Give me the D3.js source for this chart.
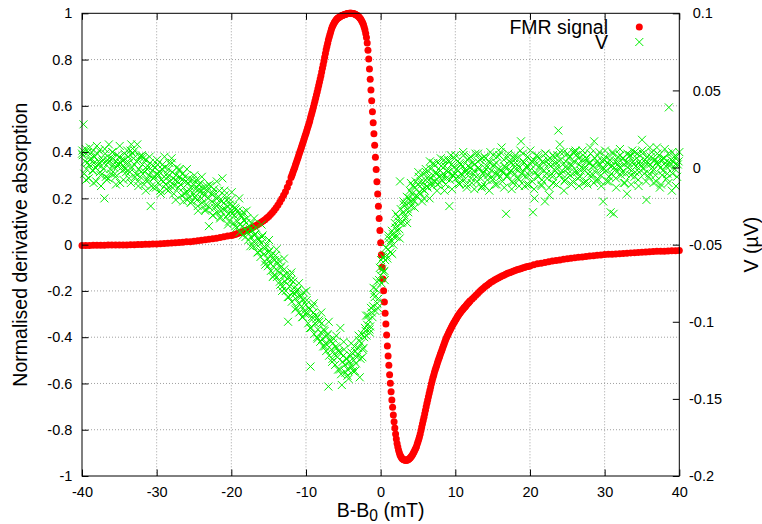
<!DOCTYPE html>
<html><head><meta charset="utf-8">
<script src="https://cdn.jsdelivr.net/npm/d3@7"></script>
<style>
body{margin:0;background:#fff;}
svg{display:block;font-family:"Liberation Sans",Arial,Helvetica,sans-serif;}
</style></head><body>
<svg id="chart" width="762" height="524"></svg>
<script>
// ---------- tick values / labels ----------
const xTicks = [-40,-30,-20,-10,0,10,20,30,40];
const yTicks = [-1,-0.8,-0.6,-0.4,-0.2,0,0.2,0.4,0.6,0.8,1];
const y2Ticks = [-0.2,-0.15,-0.1,-0.05,0,0.05,0.1];
const xLabel = "B-B";
const xLabelSub = "0";
const xLabelUnit = " (mT)";
const yLabel = "Normalised derivative absorption";
const y2Label = "V (\u00b5V)";
const seriesNames = ["FMR signal", "V"];

// ---------- FMR signal: [B-B0 (mT), normalised derivative absorption] ----------
const fmrPoints = [
[-40,-0.004],[-39.5,-0.004],[-39,-0.004],[-38.5,-0.003],[-38,-0.003],[-37.5,-0.003],[-37,-0.003],[-36.5,-0.002],[-36,-0.002],[-35.5,-0.002],
[-35,-0.002],[-34.5,-0.001],[-34,-0.001],[-33.5,0],[-33,0],[-32.5,0.001],[-32,0.001],[-31.5,0.002],[-31,0.002],[-30.5,0.003],
[-30,0.003],[-29.5,0.004],[-29,0.005],[-28.5,0.006],[-28,0.007],[-27.5,0.008],[-27,0.009],[-26.5,0.010],[-26,0.012],[-25.5,0.013],
[-25,0.015],[-24.5,0.017],[-24,0.019],[-23.5,0.021],[-23,0.023],[-22.5,0.025],[-22,0.028],[-21.5,0.031],[-21,0.034],[-20.5,0.037],
[-20,0.040],[-19.75,0.042],[-19.5,0.044],[-19.25,0.047],[-19,0.050],[-18.75,0.053],[-18.5,0.056],[-18.25,0.059],[-18,0.062],[-17.75,0.066],
[-17.5,0.069],[-17.25,0.073],[-17,0.077],[-16.75,0.082],[-16.5,0.086],[-16.25,0.091],[-16,0.097],[-15.75,0.102],[-15.5,0.108],[-15.25,0.115],
[-15,0.122],[-14.75,0.130],[-14.5,0.139],[-14.25,0.149],[-14,0.160],[-13.75,0.171],[-13.5,0.184],[-13.25,0.198],[-13,0.213],[-12.75,0.229],
[-12.5,0.248],[-12.25,0.268],
[-12,0.290],[-11.9,0.299],[-11.8,0.308],[-11.7,0.317],[-11.6,0.326],[-11.5,0.335],[-11.4,0.345],[-11.3,0.354],[-11.2,0.364],[-11.1,0.373],
[-11,0.383],[-10.9,0.393],[-10.8,0.403],[-10.7,0.412],[-10.6,0.422],[-10.5,0.432],[-10.4,0.442],[-10.3,0.452],[-10.2,0.462],[-10.1,0.472],
[-10,0.482],[-9.9,0.492],[-9.8,0.503],[-9.7,0.513],[-9.6,0.524],[-9.5,0.535],[-9.4,0.547],[-9.3,0.559],[-9.2,0.571],[-9.1,0.583],
[-9,0.595],[-8.9,0.608],[-8.8,0.621],[-8.7,0.634],[-8.6,0.647],[-8.5,0.660],[-8.4,0.674],[-8.3,0.688],[-8.2,0.702],[-8.1,0.716],
[-8,0.730],[-7.9,0.746],[-7.8,0.762],[-7.7,0.778],[-7.6,0.794],[-7.5,0.810],[-7.4,0.826],[-7.3,0.842],[-7.2,0.857],[-7.1,0.871],
[-7,0.885],[-6.9,0.897],[-6.8,0.908],[-6.7,0.919],[-6.6,0.930],[-6.5,0.940],[-6.4,0.947],[-6.3,0.954],[-6.2,0.960],[-6.1,0.965],
[-6,0.970],[-5.9,0.974],[-5.8,0.977],[-5.7,0.980],[-5.6,0.982],[-5.5,0.984],[-5.4,0.986],[-5.3,0.988],[-5.2,0.990],[-5.1,0.991],
[-5,0.993],[-4.9,0.994],[-4.8,0.995],[-4.7,0.996],[-4.6,0.997],[-4.5,0.998],[-4.4,0.999],[-4.3,0.999],[-4.2,1.000],[-4.1,1.000],
[-4,1.000],[-3.9,1.000],[-3.8,0.999],[-3.7,0.999],[-3.6,0.998],[-3.5,0.997],[-3.4,0.996],[-3.3,0.994],[-3.2,0.992],[-3.1,0.990],
[-3,0.987],[-2.9,0.984],[-2.8,0.980],[-2.7,0.976],[-2.6,0.971],[-2.5,0.965],[-2.4,0.958],[-2.3,0.950],[-2.2,0.940],[-2.1,0.928],
[-2,0.913],[-1.9,0.895],[-1.8,0.872],[-1.7,0.840],[-1.6,0.802],[-1.5,0.759],[-1.4,0.715],[-1.3,0.669],[-1.2,0.622],[-1.1,0.574],
[-1,0.527],[-0.9,0.479],[-0.8,0.430],[-0.7,0.378],[-0.6,0.325],[-0.5,0.272],[-0.4,0.219],[-0.3,0.166],[-0.2,0.113],[-0.1,0.061],
[0,0.008],[0.1,-0.044],[0.2,-0.098],[0.3,-0.149],[0.4,-0.199],[0.5,-0.248],[0.6,-0.297],[0.7,-0.343],[0.8,-0.391],[0.9,-0.438],
[1,-0.481],[1.1,-0.521],[1.2,-0.562],[1.3,-0.599],[1.4,-0.636],[1.5,-0.671],[1.6,-0.703],[1.7,-0.736],[1.8,-0.766],[1.9,-0.793],
[2,-0.818],[2.1,-0.840],[2.2,-0.859],[2.3,-0.875],[2.4,-0.889],[2.5,-0.900],[2.6,-0.909],[2.7,-0.916],[2.8,-0.921],[2.9,-0.925],
[3,-0.928],[3.1,-0.930],[3.2,-0.931],[3.3,-0.932],[3.4,-0.932],[3.5,-0.932],[3.6,-0.931],[3.7,-0.929],[3.8,-0.926],[3.9,-0.923],
[4,-0.920],[4.1,-0.916],[4.2,-0.911],[4.3,-0.906],[4.4,-0.900],[4.5,-0.894],[4.6,-0.887],[4.7,-0.880],[4.8,-0.872],[4.9,-0.862],
[5,-0.852],[5.1,-0.841],[5.2,-0.830],[5.3,-0.818],[5.4,-0.803],[5.5,-0.788],[5.6,-0.774],[5.7,-0.760],[5.8,-0.746],[5.9,-0.731],
[6,-0.716],[6.1,-0.701],[6.2,-0.686],[6.3,-0.671],[6.4,-0.657],[6.5,-0.643],[6.6,-0.629],[6.7,-0.615],[6.8,-0.601],[6.9,-0.588],
[7,-0.575],[7.1,-0.564],[7.2,-0.553],[7.3,-0.542],[7.4,-0.532],[7.5,-0.522],[7.6,-0.512],[7.7,-0.502],[7.8,-0.492],[7.9,-0.483],
[8,-0.474],[8.1,-0.465],[8.2,-0.456],[8.3,-0.447],[8.4,-0.438],[8.5,-0.429],[8.6,-0.420],[8.7,-0.411],[8.8,-0.403],[8.9,-0.396],
[9,-0.389],[9.1,-0.382],[9.2,-0.375],[9.3,-0.369],[9.4,-0.362],[9.5,-0.356],[9.6,-0.350],[9.7,-0.344],[9.8,-0.338],[9.9,-0.333],
[10,-0.327],[10.1,-0.322],[10.2,-0.316],[10.3,-0.311],[10.4,-0.306],[10.5,-0.301],[10.6,-0.296],[10.7,-0.292],[10.8,-0.288],[10.9,-0.284],
[11,-0.280],[11.1,-0.276],[11.2,-0.272],[11.3,-0.269],[11.4,-0.265],[11.5,-0.261],[11.6,-0.257],[11.7,-0.253],[11.8,-0.250],[11.9,-0.246],
[12,-0.243],
[12.25,-0.235],[12.5,-0.227],[12.75,-0.219],[13,-0.211],[13.25,-0.203],[13.5,-0.195],[13.75,-0.188],[14,-0.181],[14.25,-0.175],[14.5,-0.169],
[14.75,-0.163],[15,-0.158],[15.25,-0.153],[15.5,-0.148],[15.75,-0.144],[16,-0.140],[16.25,-0.136],[16.5,-0.132],[16.75,-0.128],[17,-0.124],
[17.25,-0.121],[17.5,-0.118],[17.75,-0.115],[18,-0.112],[18.25,-0.109],[18.5,-0.106],[18.75,-0.104],[19,-0.101],[19.25,-0.099],[19.5,-0.096],
[19.75,-0.094],[20,-0.092],
[20.5,-0.087],[21,-0.083],[21.5,-0.080],[22,-0.077],[22.5,-0.074],[23,-0.071],[23.5,-0.068],[24,-0.066],[24.5,-0.063],[25,-0.061],
[25.5,-0.059],[26,-0.057],[26.5,-0.055],[27,-0.053],[27.5,-0.051],[28,-0.049],[28.5,-0.048],[29,-0.046],[29.5,-0.045],[30,-0.043],
[30.5,-0.042],[31,-0.041],[31.5,-0.040],[32,-0.039],[32.5,-0.038],[33,-0.037],[33.5,-0.036],[34,-0.035],[34.5,-0.034],[35,-0.033],
[35.5,-0.032],[36,-0.031],[36.5,-0.030],[37,-0.029],[37.5,-0.029],[38,-0.028],[38.5,-0.027],[39,-0.026],[39.5,-0.026],[40,-0.025]
];

// ---------- V: [B-B0 (mT), V (µV)] ----------
const vPoints = [
[-40,0.009],[-39.8,0.028],[-39.6,0.004],[-39.4,-0.001],[-39.2,0.010],[-39,0.002],[-38.8,0.006],[-38.6,-0.002],[-38.4,0.003],[-38.2,0.000],
[-38,0.014],[-37.8,0.004],[-37.6,-0.003],[-37.4,0.001],[-37.2,0.005],[-37,-0.020],[-36.8,-0.006],[-36.6,0.005],[-36.4,0.015],[-36.2,-0.001],
[-36,0.006],[-35.8,0.002],[-35.6,-0.004],[-35.4,0.004],[-35.2,0.001],[-35,0.007],[-34.8,0.003],[-34.6,-0.002],[-34.4,0.005],[-34.2,-0.001],
[-34,0.002],[-33.8,0.007],[-33.6,-0.003],[-33.4,0.015],[-33.2,0.009],
[-33,0.002],[-32.8,-0.004],[-32.6,0.015],[-32.4,-0.001],[-32.2,-0.006],[-32,0.008],[-31.8,0.006],[-31.6,-0.003],[-31.4,-0.008],[-31.2,0.001],
[-31,-0.005],[-30.8,-0.025],[-30.6,-0.002],[-30.4,-0.007],[-30.2,0.000],[-30,-0.004],[-29.8,-0.010],[-29.6,-0.003],[-29.4,-0.008],[-29.2,0.002],
[-29,-0.006],[-28.8,-0.011],[-28.6,-0.004],[-28.4,-0.001],[-28.2,-0.009],[-28,0.006],[-27.8,-0.007],[-27.6,-0.012],[-27.4,-0.005],[-27.2,-0.009],
[-27,-0.002],[-26.8,-0.011],[-26.6,-0.008],
[-26.4,-0.013],[-26.2,-0.006],[-26,-0.016],[-25.8,-0.010],[-25.6,-0.019],[-25.4,-0.013],[-25.2,-0.008],[-25,-0.017],[-24.8,-0.014],[-24.6,-0.021],
[-24.4,-0.011],[-24.2,-0.016],[-24,-0.020],[-23.8,-0.013],[-23.6,-0.018],[-23.4,-0.024],[-23.2,-0.015],[-23,-0.038],[-22.8,-0.012],[-22.6,-0.022],
[-22.4,-0.017],[-22.2,-0.026],[-22,-0.020],[-21.8,-0.024],[-21.6,-0.015],[-21.4,-0.028],[-21.2,-0.007],[-21,-0.023],[-20.8,-0.027],[-20.6,-0.021],
[-20.4,-0.030],[-20.2,-0.024],[-20,-0.028],
[-19.8,-0.025],[-19.6,-0.031],[-19.4,-0.027],[-19.2,-0.035],[-19,-0.030],[-18.8,-0.037],[-18.6,-0.032],[-18.4,-0.029],[-18.2,-0.040],[-18,-0.036],
[-17.8,-0.042],[-17.6,-0.038],[-17.4,-0.045],[-17.2,-0.041],[-17,-0.048],[-16.8,-0.043],[-16.6,-0.050],[-16.4,-0.046],[-16.2,-0.054],[-16,-0.049],
[-15.8,-0.044],[-15.6,-0.056],[-15.4,-0.052],[-15.2,-0.059],[-15,-0.055],[-14.8,-0.062],[-14.6,-0.057],[-14.4,-0.064],[-14.2,-0.060],[-14,-0.066],
[-13.8,-0.062],[-13.6,-0.068],[-13.4,-0.065],[-13.2,-0.080],[-13,-0.070],[-12.8,-0.074],[-12.6,-0.069],[-12.4,-0.100],[-12.2,-0.077],[-12,-0.073],
[-11.8,-0.081],[-11.6,-0.078],[-11.4,-0.085],[-11.2,-0.080],[-11,-0.088],[-10.8,-0.083],[-10.6,-0.090],[-10.4,-0.086],[-10.2,-0.093],[-10,-0.089],
[-9.8,-0.095],[-9.6,-0.091],[-9.4,-0.129],[-9.2,-0.097],[-9,-0.094],[-8.8,-0.101],[-8.6,-0.098],[-8.4,-0.105],[-8.2,-0.100],[-8,-0.107],
[-7.8,-0.111],[-7.6,-0.105],[-7.4,-0.114],[-7.2,-0.109],[-7,-0.142],[-6.8,-0.112],[-6.6,-0.118],[-6.4,-0.114],[-6.2,-0.121],[-6,-0.116],
[-5.8,-0.123],[-5.6,-0.119],[-5.4,-0.104],[-5.2,-0.141],[-5,-0.122],[-4.8,-0.128],[-4.6,-0.124],[-4.4,-0.131],[-4.2,-0.126],[-4,-0.122],
[-3.8,-0.129],[-3.6,-0.125],[-3.4,-0.119],[-3.2,-0.123],[-3,-0.117],[-2.8,-0.136],[-2.6,-0.114],[-2.4,-0.118],[-2.2,-0.110],[-2,-0.106],
[-1.8,-0.102],[-1.6,-0.099],[-1.4,-0.103],[-1.2,-0.094],[-1,-0.090],[-0.8,-0.084],[-0.6,-0.079],[-0.4,-0.091],[-0.2,-0.073],[0,-0.070],
[0.2,-0.066],[0.4,-0.068],[0.6,-0.060],[0.8,-0.057],[1,-0.053],[1.2,-0.049],[1.4,-0.047],[1.6,-0.043],[1.8,-0.045],[2,-0.039],
[2.2,-0.041],[2.4,-0.035],[2.6,-0.009],[2.8,-0.036],[3,-0.029],[3.2,-0.031],[3.4,-0.024],[3.6,-0.027],[3.8,-0.020],[4,-0.022],
[4.2,-0.017],[4.4,-0.021],[4.6,-0.013],[4.8,-0.018],[5,-0.011],[5.2,-0.016],[5.4,-0.009],[5.6,-0.014],[5.8,-0.020],[6,-0.008],
[6.2,-0.012],[6.4,-0.006],[6.6,0.004],[6.8,-0.010],[7,-0.005],[7.2,-0.009],[7.4,-0.003],[7.6,-0.011],[7.8,-0.006],[8,-0.002],
[8.2,-0.008],[8.4,-0.004],[8.6,0.001],[8.8,-0.007],[9,-0.003],[9.2,-0.025],[9.4,0.008],[9.6,-0.005],[9.8,0.000],[10,-0.004],
[10.2,-0.001],[10.4,-0.006],[10.6,0.003],[10.8,-0.004],[11,0.001],[11.2,-0.008],[11.4,-0.002],[11.6,0.005],[11.8,-0.003],[12,0.000],
[12.2,-0.010],[12.4,-0.004],[12.6,0.002],[12.8,-0.006],[13,0.004],[13.2,-0.001],[13.4,-0.007],[13.6,0.006],[13.8,-0.003],[14,-0.012],
[14.2,0.001],[14.4,-0.005],[14.6,0.003],[14.8,-0.002],[15,-0.008],[15.2,0.002],[15.4,-0.004],[15.6,0.007],[15.8,-0.001],[16,-0.006],
[16.2,0.013],[16.4,-0.003],[16.6,0.001],[16.8,-0.030],[17,-0.005],[17.2,0.004],[17.4,-0.002],[17.6,-0.009],[17.8,0.002],[18,-0.004],
[18.2,0.006],[18.4,-0.007],[18.6,0.000],[18.8,0.017],[19,-0.003],[19.2,0.003],[19.4,-0.006],[19.6,0.001],[19.8,-0.011],[20,-0.002],
[20.2,0.004],[20.4,-0.029],[20.6,-0.020],[20.8,0.002],[21,-0.005],[21.2,0.006],[21.4,-0.001],[21.6,-0.008],[21.8,0.003],[22,-0.022],
[22.2,-0.004],[22.4,0.005],[22.6,-0.018],[22.8,0.001],[23,-0.006],[23.2,0.007],[23.4,-0.002],[23.6,0.003],[23.8,0.024],[24,0.015],
[24.2,-0.004],[24.4,0.002],[24.6,-0.009],[24.8,0.004],[25,-0.001],[25.2,0.006],[25.4,-0.005],[25.6,0.001],[25.8,0.010],[26,-0.003],
[26.2,0.008],[26.4,-0.007],[26.6,0.002],[26.8,-0.002],[27,0.005],[27.2,-0.010],[27.4,0.000],[27.6,0.006],[27.8,-0.004],[28,0.003],
[28.2,-0.006],[28.4,0.001],[28.6,0.017],[28.8,-0.003],[29,0.004],[29.2,-0.008],[29.4,0.002],[29.6,-0.001],[29.8,-0.022],[30,0.005],
[30.2,-0.002],[30.4,0.003],[30.6,-0.006],[30.8,-0.029],[31,0.001],[31.2,-0.030],[31.4,0.004],[31.6,-0.003],[31.8,0.007],[32,0.000],
[32.2,-0.005],[32.4,0.006],[32.6,0.002],[32.8,-0.004],[33,-0.017],[33.2,0.003],[33.4,0.008],[33.6,-0.002],[33.8,0.004],[34,-0.006],
[34.2,0.001],[34.4,0.009],[34.6,-0.003],[34.8,0.002],[35,0.018],[35.2,-0.001],[35.4,0.005],[35.6,-0.021],[35.8,0.003],[36,-0.004],
[36.2,0.007],[36.4,0.000],[36.6,0.004],[36.8,-0.005],[37,0.013],[37.2,0.002],[37.4,-0.013],[37.6,0.005],[37.8,-0.002],[38,0.006],
[38.2,0.001],[38.4,-0.004],[38.6,0.039],[38.8,0.003],[39,-0.015],[39.2,0.004],[39.4,-0.001],[39.6,0.007],[39.8,0.002],[40,0.010],
// interleaved readings
[-39.9,0.008],[-39.7,-0.004],[-39.5,0.012],[-39.3,0.003],[-39.1,-0.007],[-38.9,0.005],[-38.7,0.010],[-38.5,-0.002],[-38.3,0.007],[-38.1,-0.009],
[-37.9,0.002],[-37.7,0.011],[-37.5,-0.005],[-37.3,0.004],[-37.1,-0.001],[-36.9,0.009],[-36.7,-0.008],[-36.5,0.003],[-36.3,0.006],[-36.1,-0.004],
[-35.9,0.010],[-35.7,0.000],[-35.5,-0.006],[-35.3,0.008],[-35.1,0.002],[-34.9,-0.010],[-34.7,0.005],[-34.5,0.001],[-34.3,0.009],[-34.1,-0.003],
[-33.9,0.004],[-33.7,-0.007],[-33.5,0.011],[-33.3,0.000],[-33.1,0.006],
[-32.9,-0.006],[-32.7,0.004],[-32.5,-0.009],[-32.3,0.007],[-32.1,-0.003],[-31.9,0.002],[-31.7,-0.011],[-31.5,0.005],[-31.3,-0.001],[-31.1,-0.008],
[-30.9,0.003],[-30.7,-0.012],[-30.5,0.001],[-30.3,-0.006],[-30.1,-0.013],[-29.9,0.002],[-29.7,-0.005],[-29.5,-0.015],[-29.3,-0.001],[-29.1,-0.009],
[-28.9,0.000],[-28.7,-0.014],[-28.5,-0.006],[-28.3,0.003],[-28.1,-0.012],[-27.9,-0.003],[-27.7,-0.017],[-27.5,-0.008],[-27.3,0.000],[-27.1,-0.013],
[-26.9,-0.006],[-26.7,-0.018],[-26.5,-0.004],
[-26.3,-0.017],[-26.1,-0.009],[-25.9,-0.021],[-25.7,-0.007],[-25.5,-0.015],[-25.3,-0.022],[-25.1,-0.011],[-24.9,-0.019],[-24.7,-0.008],[-24.5,-0.025],
[-24.3,-0.014],[-24.1,-0.010],[-23.9,-0.023],[-23.7,-0.016],[-23.5,-0.028],[-23.3,-0.012],[-23.1,-0.020],[-22.9,-0.026],[-22.7,-0.017],[-22.5,-0.031],
[-22.3,-0.014],[-22.1,-0.024],[-21.9,-0.029],[-21.7,-0.019],[-21.5,-0.033],[-21.3,-0.022],[-21.1,-0.027],[-20.9,-0.018],[-20.7,-0.032],[-20.5,-0.025],
[-20.3,-0.035],[-20.1,-0.021],[-19.9,-0.030],
[-19.7,-0.036],[-19.5,-0.026],[-19.3,-0.039],[-19.1,-0.028],[-18.9,-0.042],[-18.7,-0.031],[-18.5,-0.038],[-18.3,-0.034],[-18.1,-0.045],[-17.9,-0.033],
[-17.7,-0.047],[-17.5,-0.040],[-17.3,-0.036],[-17.1,-0.051],[-16.9,-0.044],[-16.7,-0.039],[-16.5,-0.055],[-16.3,-0.047],[-16.1,-0.058],[-15.9,-0.045],
[-15.7,-0.052],[-15.5,-0.061],[-15.3,-0.050],[-15.1,-0.064],[-14.9,-0.054],[-14.7,-0.067],[-14.5,-0.059],[-14.3,-0.070],[-14.1,-0.057],
[-13.9,-0.071],[-13.7,-0.060],[-13.5,-0.074],[-13.3,-0.064],[-13.1,-0.077],[-12.9,-0.066],[-12.7,-0.080],[-12.5,-0.072],[-12.3,-0.084],[-12.1,-0.070],
[-11.9,-0.087],[-11.7,-0.074],[-11.5,-0.082],[-11.3,-0.091],[-11.1,-0.079],[-10.9,-0.094],[-10.7,-0.084],[-10.5,-0.097],[-10.3,-0.081],[-10.1,-0.095],
[-9.9,-0.086],[-9.7,-0.101],[-9.5,-0.092],[-9.3,-0.104],[-9.1,-0.090],[-8.9,-0.108],[-8.7,-0.096],[-8.5,-0.110],[-8.3,-0.099],[-8.1,-0.113],
[-7.9,-0.101],[-7.7,-0.116],[-7.5,-0.106],[-7.3,-0.119],[-7.1,-0.108],[-6.9,-0.122],[-6.7,-0.113],[-6.5,-0.126],[-6.3,-0.111],[-6.1,-0.128],
[-5.9,-0.117],[-5.7,-0.131],[-5.5,-0.120],[-5.3,-0.134],[-5.1,-0.126],[-4.9,-0.118],[-4.7,-0.133],[-4.5,-0.124],[-4.3,-0.137],[-4.1,-0.129],
[-3.9,-0.120],[-3.7,-0.132],[-3.5,-0.116],[-3.3,-0.127],[-3.1,-0.121],[-2.9,-0.112],[-2.7,-0.124],[-2.5,-0.108],[-2.3,-0.117],[-2.1,-0.104],
[-1.9,-0.109],[-1.7,-0.096],[-1.5,-0.105],[-1.3,-0.091],[-1.1,-0.097],[-0.9,-0.082],[-0.7,-0.093],[-0.5,-0.074],[-0.3,-0.085],[-0.1,-0.065],
[0.1,-0.075],[0.3,-0.058],[0.5,-0.067],[0.7,-0.052],[0.9,-0.059],[1.1,-0.046],[1.3,-0.055],[1.5,-0.041],[1.7,-0.050],[1.9,-0.036],
[2.1,-0.045],[2.3,-0.032],[2.5,-0.040],[2.7,-0.027],[2.9,-0.035],[3.1,-0.024],[3.3,-0.033],[3.5,-0.019],[3.7,-0.029],[3.9,-0.015],
[4.1,-0.025],[4.3,-0.012],[4.5,-0.022],[4.7,-0.009],[4.9,-0.019],[5.1,-0.006],[5.3,-0.017],[5.5,-0.011],[5.7,-0.004],[5.9,-0.015],
[6.1,-0.003],[6.3,-0.013],[6.5,-0.008],[6.7,-0.001],[6.9,-0.012],[7.1,0.002],[7.3,-0.009],[7.5,-0.004],[7.7,0.003],[7.9,-0.010],
[8.1,0.001],[8.3,-0.006],[8.5,0.005],[8.7,-0.011],[8.9,-0.002],[9.1,0.004],[9.3,-0.008],[9.5,0.002],[9.7,-0.005],[9.9,0.006],
[10.1,-0.007],[10.3,0.004],[10.5,-0.010],[10.7,0.002],[10.9,-0.005],[11.1,0.008],[11.3,-0.003],[11.5,-0.011],[11.7,0.001],[11.9,0.006],
[12.1,-0.007],[12.3,0.003],[12.5,-0.002],[12.7,0.009],[12.9,-0.009],[13.1,0.000],[13.3,0.005],[13.5,-0.013],[13.7,-0.004],[13.9,0.007],
[14.1,-0.001],[14.3,-0.008],[14.5,0.004],[14.7,0.010],[14.9,-0.006],[15.1,0.001],[15.3,-0.011],[15.5,0.003],[15.7,-0.004],[15.9,0.008],
[16.1,-0.002],[16.3,-0.009],[16.5,0.005],[16.7,0.000],[16.9,-0.006],[17.1,0.009],[17.3,-0.003],[17.5,0.003],[17.7,-0.010],[17.9,0.006],
[18.1,-0.001],[18.3,0.002],[18.5,-0.008],[18.7,0.011],[18.9,-0.004],[19.1,0.004],[19.3,-0.012],[19.5,0.000],[19.7,0.007],[19.9,-0.005],
[20.1,0.002],[20.3,-0.009],[20.5,0.005],[20.7,-0.003],[20.9,0.008],[21.1,-0.006],[21.3,0.001],[21.5,-0.011],[21.7,0.004],[21.9,-0.002],
[22.1,0.009],[22.3,-0.007],[22.5,0.002],[22.7,0.006],[22.9,-0.004],[23.1,-0.010],[23.3,0.003],[23.5,0.000],[23.7,0.008],[23.9,-0.005],
[24.1,0.005],[24.3,-0.002],[24.5,0.010],[24.7,-0.008],[24.9,0.001],[25.1,-0.004],[25.3,0.007],[25.5,0.002],[25.7,-0.009],[25.9,0.004],
[26.1,0.011],[26.3,-0.003],[26.5,0.006],[26.7,-0.006],[26.9,0.000],[27.1,0.008],[27.3,-0.002],[27.5,0.004],[27.7,-0.011],[27.9,0.003],
[28.1,0.009],[28.3,-0.004],[28.5,0.001],[28.7,0.006],[28.9,-0.008],[29.1,0.002],[29.3,0.010],[29.5,-0.005],[29.7,0.004],[29.9,-0.001],
[30.1,0.007],[30.3,-0.009],[30.5,0.002],[30.7,0.005],[30.9,-0.004],[31.1,0.009],[31.3,0.000],[31.5,-0.007],[31.7,0.004],[31.9,0.001],
[32.1,0.008],[32.3,-0.003],[32.5,0.006],[32.7,-0.010],[32.9,0.003],[33.1,0.000],[33.3,0.007],[33.5,-0.005],[33.7,0.011],[33.9,0.002],
[34.1,-0.003],[34.3,0.006],[34.5,-0.008],[34.7,0.004],[34.9,0.001],[35.1,0.009],[35.3,-0.004],[35.5,0.003],[35.7,0.007],[35.9,-0.006],
[36.1,0.002],[36.3,0.010],[36.5,-0.002],[36.7,0.005],[36.9,-0.009],[37.1,0.004],[37.3,0.008],[37.5,0.000],[37.7,-0.005],[37.9,0.006],
[38.1,0.003],[38.3,-0.007],[38.5,0.009],[38.7,0.001],[38.9,0.005],[39.1,-0.004],[39.3,0.007],[39.5,0.002],[39.7,-0.006],[39.9,0.004],
// scattered readings at the edges of the band
[-39.95,0.011],[-39.45,-0.008],[-38.95,0.013],[-38.45,-0.010],[-37.95,0.009],[-37.45,-0.012],[-36.95,0.012],[-36.45,-0.007],[-35.95,0.010],[-35.45,-0.011],
[-34.95,0.014],[-34.45,-0.008],[-33.95,0.011],[-33.45,-0.010],[-32.95,0.011],[-32.45,-0.012],[-31.95,0.007],[-31.45,-0.015],[-30.95,0.007],[-30.45,-0.013],
[-29.95,0.005],[-29.45,-0.017],[-28.95,0.007],[-28.45,-0.015],[-27.95,0.003],[-27.45,-0.021],[-26.95,-0.001],[-26.45,-0.022],[-25.95,-0.001],[-25.45,-0.023],
[-24.95,-0.005],[-24.45,-0.028],[-23.95,-0.006],[-23.45,-0.027],[-22.95,-0.011],[-22.45,-0.031],[-21.95,-0.009],[-21.45,-0.032],[-20.95,-0.015],[-20.45,-0.037],
[-19.95,-0.016],[-19.45,-0.038],[-18.95,-0.020],[-18.45,-0.044],[-17.95,-0.028],[-17.45,-0.051],[-16.95,-0.033],[-16.45,-0.055],[-15.95,-0.037],[-15.45,-0.063],
[-14.95,-0.047],[-14.45,-0.071],[-13.95,-0.053],[-13.45,-0.076],[-12.95,-0.059],[-12.45,-0.084],[-11.95,-0.068],[-11.45,-0.092],[-10.95,-0.075],[-10.45,-0.097],
[-9.95,-0.080],[-9.45,-0.104],[-8.95,-0.088],[-8.45,-0.111],[-7.95,-0.094],[-7.45,-0.116],[-6.95,-0.100],[-6.45,-0.124],[-5.95,-0.109],[-5.45,-0.131],
[-4.95,-0.113],[-4.45,-0.135],[-3.95,-0.114],[-3.45,-0.132],[-2.95,-0.109],[-2.45,-0.123],[-1.95,-0.096],[-1.45,-0.107],[-0.95,-0.078],[-0.45,-0.088],
[0.05,-0.060],[0.55,-0.073],[1.05,-0.044],[1.55,-0.056],[2.05,-0.030],[2.55,-0.046],[3.05,-0.022],[3.55,-0.036],[4.05,-0.010],[4.55,-0.026],
[5.05,-0.003],[5.55,-0.022],[6.05,-0.001],[6.55,-0.020],[7.05,0.003],[7.55,-0.015],[8.05,0.006],[8.55,-0.015],[9.05,0.005],[9.55,-0.014],
[10.05,0.008],[10.55,-0.011],[11.05,0.010],[11.55,-0.013],[12.05,0.007],[12.55,-0.014],[13.05,0.009],[13.55,-0.012],[14.05,0.006],[14.55,-0.015],
[15.05,0.008],[15.55,-0.011],[16.05,0.010],[16.55,-0.013],[17.05,0.007],[17.55,-0.014],[18.05,0.008],[18.55,-0.012],[19.05,0.009],[19.55,-0.011],
[20.05,0.011],[20.55,-0.014],[21.05,0.007],[21.55,-0.012],[22.05,0.009],[22.55,-0.013],[23.05,0.008],[23.55,-0.011],[24.05,0.010],[24.55,-0.015],
[25.05,0.009],[25.55,-0.011],[26.05,0.010],[26.55,-0.012],[27.05,0.011],[27.55,-0.009],[28.05,0.013],[28.55,-0.010],[29.05,0.008],[29.55,-0.012],
[30.05,0.011],[30.55,-0.009],[31.05,0.010],[31.55,-0.013],[32.05,0.012],[32.55,-0.010],[33.05,0.009],[33.55,-0.011],[34.05,0.010],[34.55,-0.012],
[35.05,0.011],[35.55,-0.009],[36.05,0.013],[36.55,-0.010],[37.05,0.009],[37.55,-0.011],[38.05,0.012],[38.55,-0.010],[39.05,0.010],[39.55,-0.012]
];

// ---------- layout ----------
const plot = {left: 82, right: 679.3, top: 13.3, bottom: 476};
const tickFont = 14.5, labelFont = 19.5;

const svg = d3.select("#chart");
const x = d3.scaleLinear().domain([-40, 40]).range([plot.left, plot.right]);
const y = d3.scaleLinear().domain([-1, 1]).range([plot.bottom, plot.top]);
const y2 = d3.scaleLinear().domain([-0.2, 0.1]).range([plot.bottom, plot.top]);

// grid
const grid = svg.append("g")
  .attr("stroke", "#a0a0a0").attr("stroke-width", 1).attr("stroke-dasharray", "1,2").attr("fill", "none");
grid.selectAll("line.gv").data(xTicks.slice(1, -1)).join("line").attr("class", "gv")
  .attr("x1", d => x(d)).attr("x2", d => x(d)).attr("y1", plot.top).attr("y2", plot.bottom);
grid.selectAll("line.gh").data(yTicks.slice(1, -1)).join("line").attr("class", "gh")
  .attr("x1", plot.left).attr("x2", plot.right).attr("y1", d => y(d)).attr("y2", d => y(d));

// FMR signal (red filled circles)
svg.append("g").selectAll("circle").data(fmrPoints).join("circle")
  .attr("cx", d => x(d[0])).attr("cy", d => y(d[1])).attr("r", 3.5).attr("fill", "#ff0000");

// V (green crosses)
const crossPath = "M-4,-4L4,4M-4,4L4,-4";
svg.append("g").selectAll("path").data(vPoints).join("path")
  .attr("transform", d => `translate(${x(d[0])},${y2(d[1])})`)
  .attr("d", crossPath).attr("stroke", "#00f000").attr("stroke-width", 1).attr("fill", "none");

// axes
function styleAxis(g) {
  g.select(".domain").remove();
  g.attr("font-family", null).attr("font-size", null);
  g.selectAll(".tick line").attr("stroke", "#000").attr("stroke-width", 1);
  g.selectAll(".tick text").attr("fill", "#000").style("font-size", tickFont + "px");
}
const fmt = d => String(d);
svg.append("g").attr("transform", `translate(0,${plot.bottom})`)
  .call(d3.axisBottom(x).tickValues(xTicks).tickSize(-6.5).tickPadding(10.5).tickFormat(fmt)).call(styleAxis);
svg.append("g").attr("transform", `translate(0,${plot.top})`)
  .call(d3.axisTop(x).tickValues(xTicks).tickSize(-6.5).tickFormat(() => "")).call(styleAxis);
svg.append("g").attr("transform", `translate(${plot.left},0)`)
  .call(d3.axisLeft(y).tickValues(yTicks).tickSize(-6.5).tickPadding(9.7).tickFormat(fmt)).call(styleAxis);
const rAx = svg.append("g").attr("transform", `translate(${plot.right},0)`)
  .call(d3.axisRight(y2).tickValues(y2Ticks).tickSize(-6.5).tickPadding(13.4).tickFormat(fmt)).call(styleAxis);
rAx.selectAll(".tick text").attr("dx", d => d < 0 ? -3.7 : 0);

// border
svg.append("rect").attr("x", plot.left).attr("y", plot.top)
  .attr("width", plot.right - plot.left).attr("height", plot.bottom - plot.top)
  .attr("fill", "none").attr("stroke", "#000").attr("stroke-width", 1);

// axis labels
const xl = svg.append("text").attr("x", (plot.left + plot.right) / 2).attr("y", 516.5)
  .attr("text-anchor", "middle").style("font-size", labelFont + "px").attr("fill", "#000");
xl.append("tspan").text(xLabel);
xl.append("tspan").attr("dy", 4).style("font-size", (labelFont * 0.8) + "px").text(xLabelSub);
xl.append("tspan").attr("dy", -4).text(xLabelUnit);

svg.append("text").attr("transform", `translate(26.7,${(plot.top + plot.bottom) / 2}) rotate(-90)`)
  .attr("text-anchor", "middle").style("font-size", labelFont + "px").attr("fill", "#000").text(yLabel);
svg.append("text").attr("transform", `translate(758.3,${(plot.top + plot.bottom) / 2}) rotate(-90)`)
  .attr("text-anchor", "middle").style("font-size", labelFont + "px").attr("fill", "#000").text(y2Label);

// legend
const lg = svg.append("g");
lg.append("text").attr("x", 608).attr("y", 34).attr("text-anchor", "end")
  .style("font-size", labelFont + "px").attr("fill", "#000").text(seriesNames[0]);
lg.append("circle").attr("cx", 639.3).attr("cy", 27).attr("r", 3.5).attr("fill", "#ff0000");
lg.append("text").attr("x", 608).attr("y", 49).attr("text-anchor", "end")
  .style("font-size", labelFont + "px").attr("fill", "#000").text(seriesNames[1]);
lg.append("path").attr("transform", "translate(639.3,42)").attr("d", crossPath)
  .attr("stroke", "#00f000").attr("stroke-width", 1).attr("fill", "none");
</script>
</body></html>
